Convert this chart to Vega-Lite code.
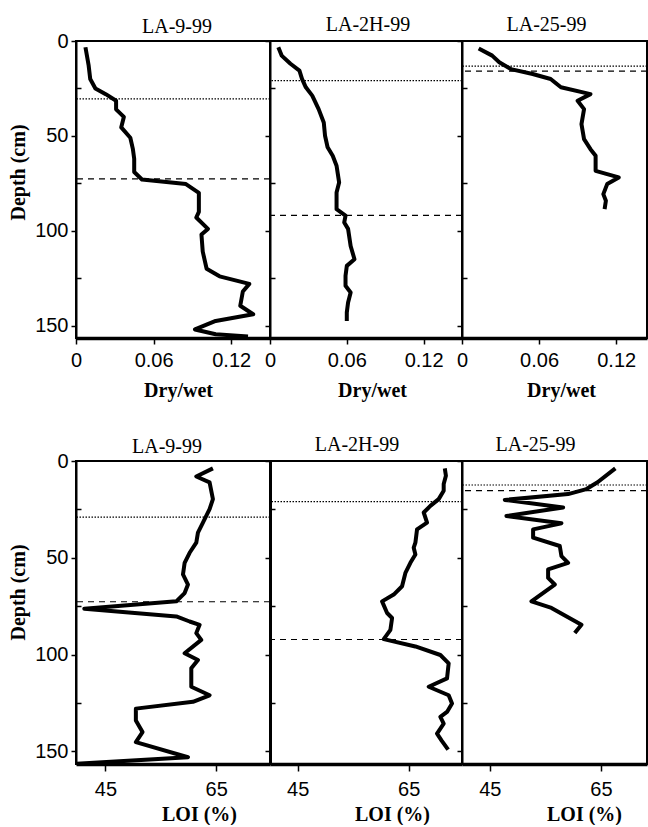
{
  "$schema": "https://vega.github.io/schema/vega-lite/v6.json",
  "padding": {"left": 7, "top": 13, "right": 0, "bottom": 0},
  "background": "white",
  "config": {
    "view": {"stroke": "black", "strokeWidth": 2},
    "axis": {"grid": false, "domainColor": "black", "tickColor": "black", "labelColor": "black", "titleColor": "black",
      "labelFont": "Liberation Sans", "labelFontSize": 20, "titleFont": "Liberation Serif", "titleFontSize": 20, "titleFontWeight": "bold",
      "labelPadding": 3, "titlePadding": 6, "tickWidth": 1.5},
    "axisX": {"titlePadding": 10},
    "title": {"font": "Liberation Serif", "fontSize": 20, "fontWeight": "normal", "color": "black", "offset": 4, "frame": "group"}
  },
  "datasets": {
    "p": [
      {"s":"LA-9-99","v":"dw","d":3.3,"x":0.0073},{"s":"LA-9-99","v":"dw","d":13,"x":0.0098},{"s":"LA-9-99","v":"dw","d":20,"x":0.011},{"s":"LA-9-99","v":"dw","d":25,"x":0.015},{"s":"LA-9-99","v":"dw","d":28,"x":0.023},{"s":"LA-9-99","v":"dw","d":31.5,"x":0.031},{"s":"LA-9-99","v":"dw","d":36,"x":0.031},{"s":"LA-9-99","v":"dw","d":40,"x":0.037},{"s":"LA-9-99","v":"dw","d":45.5,"x":0.035},{"s":"LA-9-99","v":"dw","d":51,"x":0.042},{"s":"LA-9-99","v":"dw","d":57,"x":0.044},{"s":"LA-9-99","v":"dw","d":62,"x":0.045},{"s":"LA-9-99","v":"dw","d":69,"x":0.045},{"s":"LA-9-99","v":"dw","d":73,"x":0.051},{"s":"LA-9-99","v":"dw","d":75.4,"x":0.085},{"s":"LA-9-99","v":"dw","d":80,"x":0.095},{"s":"LA-9-99","v":"dw","d":90,"x":0.095},{"s":"LA-9-99","v":"dw","d":93,"x":0.093},{"s":"LA-9-99","v":"dw","d":99,"x":0.102},{"s":"LA-9-99","v":"dw","d":102,"x":0.097},{"s":"LA-9-99","v":"dw","d":111,"x":0.098},{"s":"LA-9-99","v":"dw","d":120,"x":0.101},{"s":"LA-9-99","v":"dw","d":124,"x":0.111},{"s":"LA-9-99","v":"dw","d":128,"x":0.134},{"s":"LA-9-99","v":"dw","d":132,"x":0.129},{"s":"LA-9-99","v":"dw","d":139.5,"x":0.127},{"s":"LA-9-99","v":"dw","d":144,"x":0.137},{"s":"LA-9-99","v":"dw","d":147.5,"x":0.108},{"s":"LA-9-99","v":"dw","d":152,"x":0.092},{"s":"LA-9-99","v":"dw","d":154.5,"x":0.108},{"s":"LA-9-99","v":"dw","d":155.7,"x":0.133},
      {"s":"LA-2H-99","v":"dw","d":3.3,"x":0.0065},{"s":"LA-2H-99","v":"dw","d":7.7,"x":0.0091},{"s":"LA-2H-99","v":"dw","d":12,"x":0.016},{"s":"LA-2H-99","v":"dw","d":15.6,"x":0.023},{"s":"LA-2H-99","v":"dw","d":20,"x":0.025},{"s":"LA-2H-99","v":"dw","d":24.4,"x":0.028},{"s":"LA-2H-99","v":"dw","d":28.8,"x":0.033},{"s":"LA-2H-99","v":"dw","d":35.9,"x":0.038},{"s":"LA-2H-99","v":"dw","d":42.9,"x":0.042},{"s":"LA-2H-99","v":"dw","d":49.9,"x":0.043},{"s":"LA-2H-99","v":"dw","d":56,"x":0.045},{"s":"LA-2H-99","v":"dw","d":60.5,"x":0.049},{"s":"LA-2H-99","v":"dw","d":65.7,"x":0.052},{"s":"LA-2H-99","v":"dw","d":74.5,"x":0.054},{"s":"LA-2H-99","v":"dw","d":79.8,"x":0.052},{"s":"LA-2H-99","v":"dw","d":88.6,"x":0.052},{"s":"LA-2H-99","v":"dw","d":92,"x":0.059},{"s":"LA-2H-99","v":"dw","d":95.6,"x":0.058},{"s":"LA-2H-99","v":"dw","d":99,"x":0.061},{"s":"LA-2H-99","v":"dw","d":108,"x":0.063},{"s":"LA-2H-99","v":"dw","d":115,"x":0.066},{"s":"LA-2H-99","v":"dw","d":118.5,"x":0.06},{"s":"LA-2H-99","v":"dw","d":123.7,"x":0.059},{"s":"LA-2H-99","v":"dw","d":129,"x":0.059},{"s":"LA-2H-99","v":"dw","d":132.5,"x":0.063},{"s":"LA-2H-99","v":"dw","d":137.8,"x":0.061},{"s":"LA-2H-99","v":"dw","d":143,"x":0.06},{"s":"LA-2H-99","v":"dw","d":147.5,"x":0.06},
      {"s":"LA-25-99","v":"dw","d":3.9,"x":0.013},{"s":"LA-25-99","v":"dw","d":7.7,"x":0.0235},{"s":"LA-25-99","v":"dw","d":11.2,"x":0.029},{"s":"LA-25-99","v":"dw","d":14.8,"x":0.038},{"s":"LA-25-99","v":"dw","d":17.4,"x":0.055},{"s":"LA-25-99","v":"dw","d":20,"x":0.069},{"s":"LA-25-99","v":"dw","d":24.4,"x":0.077},{"s":"LA-25-99","v":"dw","d":28,"x":0.1},{"s":"LA-25-99","v":"dw","d":31.5,"x":0.09},{"s":"LA-25-99","v":"dw","d":35.9,"x":0.095},{"s":"LA-25-99","v":"dw","d":43.8,"x":0.093},{"s":"LA-25-99","v":"dw","d":51.7,"x":0.095},{"s":"LA-25-99","v":"dw","d":57,"x":0.1},{"s":"LA-25-99","v":"dw","d":60.5,"x":0.104},{"s":"LA-25-99","v":"dw","d":68.4,"x":0.104},{"s":"LA-25-99","v":"dw","d":71.9,"x":0.122},{"s":"LA-25-99","v":"dw","d":75.4,"x":0.113},{"s":"LA-25-99","v":"dw","d":80.7,"x":0.11},{"s":"LA-25-99","v":"dw","d":84.2,"x":0.112},{"s":"LA-25-99","v":"dw","d":88.6,"x":0.111},
      {"s":"LA-9-99","v":"loi","d":3.8,"x":64.4},{"s":"LA-9-99","v":"loi","d":8,"x":61.4},{"s":"LA-9-99","v":"loi","d":11,"x":63.8},{"s":"LA-9-99","v":"loi","d":19.7,"x":64.4},{"s":"LA-9-99","v":"loi","d":24.9,"x":63.8},{"s":"LA-9-99","v":"loi","d":31.8,"x":62.6},{"s":"LA-9-99","v":"loi","d":37,"x":61.7},{"s":"LA-9-99","v":"loi","d":42.2,"x":61.4},{"s":"LA-9-99","v":"loi","d":47.4,"x":60.2},{"s":"LA-9-99","v":"loi","d":52.6,"x":59.3},{"s":"LA-9-99","v":"loi","d":58.6,"x":59.0},{"s":"LA-9-99","v":"loi","d":63.8,"x":59.9},{"s":"LA-9-99","v":"loi","d":68.2,"x":59.3},{"s":"LA-9-99","v":"loi","d":72.5,"x":57.8},{"s":"LA-9-99","v":"loi","d":76.3,"x":41.2},{"s":"LA-9-99","v":"loi","d":80.3,"x":57.8},{"s":"LA-9-99","v":"loi","d":82.9,"x":60.2},{"s":"LA-9-99","v":"loi","d":84.6,"x":62.0},{"s":"LA-9-99","v":"loi","d":88.9,"x":61.4},{"s":"LA-9-99","v":"loi","d":92.4,"x":62.3},{"s":"LA-9-99","v":"loi","d":99.3,"x":59.3},{"s":"LA-9-99","v":"loi","d":102.8,"x":61.7},{"s":"LA-9-99","v":"loi","d":107.1,"x":60.5},{"s":"LA-9-99","v":"loi","d":110.6,"x":60.5},{"s":"LA-9-99","v":"loi","d":116.6,"x":60.5},{"s":"LA-9-99","v":"loi","d":121,"x":63.8},{"s":"LA-9-99","v":"loi","d":124.4,"x":60.8},{"s":"LA-9-99","v":"loi","d":127.9,"x":50.5},{"s":"LA-9-99","v":"loi","d":134,"x":50.5},{"s":"LA-9-99","v":"loi","d":140,"x":51.7},{"s":"LA-9-99","v":"loi","d":145.2,"x":50.5},{"s":"LA-9-99","v":"loi","d":153,"x":59.9},{"s":"LA-9-99","v":"loi","d":156.4,"x":39.8},
      {"s":"LA-2H-99","v":"loi","d":3.8,"x":71.5},{"s":"LA-2H-99","v":"loi","d":7.6,"x":71.7},{"s":"LA-2H-99","v":"loi","d":11.9,"x":71.3},{"s":"LA-2H-99","v":"loi","d":15.4,"x":71.3},{"s":"LA-2H-99","v":"loi","d":19.7,"x":70.4},{"s":"LA-2H-99","v":"loi","d":23.2,"x":68.9},{"s":"LA-2H-99","v":"loi","d":26.6,"x":67.7},{"s":"LA-2H-99","v":"loi","d":31.8,"x":68.3},{"s":"LA-2H-99","v":"loi","d":35.3,"x":66.5},{"s":"LA-2H-99","v":"loi","d":42.2,"x":66.2},{"s":"LA-2H-99","v":"loi","d":44.8,"x":65.9},{"s":"LA-2H-99","v":"loi","d":48.3,"x":66.2},{"s":"LA-2H-99","v":"loi","d":52.6,"x":65.3},{"s":"LA-2H-99","v":"loi","d":57.8,"x":64.4},{"s":"LA-2H-99","v":"loi","d":64.7,"x":63.8},{"s":"LA-2H-99","v":"loi","d":69,"x":62.3},{"s":"LA-2H-99","v":"loi","d":72.5,"x":60.2},{"s":"LA-2H-99","v":"loi","d":78.5,"x":61.1},{"s":"LA-2H-99","v":"loi","d":81.1,"x":62.0},{"s":"LA-2H-99","v":"loi","d":87.2,"x":61.7},{"s":"LA-2H-99","v":"loi","d":92,"x":60.5},{"s":"LA-2H-99","v":"loi","d":95.8,"x":66.2},{"s":"LA-2H-99","v":"loi","d":100.2,"x":70.7},{"s":"LA-2H-99","v":"loi","d":104.5,"x":72.2},{"s":"LA-2H-99","v":"loi","d":112.3,"x":71.9},{"s":"LA-2H-99","v":"loi","d":116.6,"x":68.6},{"s":"LA-2H-99","v":"loi","d":121,"x":72.2},{"s":"LA-2H-99","v":"loi","d":125.3,"x":72.8},{"s":"LA-2H-99","v":"loi","d":129.6,"x":71.9},{"s":"LA-2H-99","v":"loi","d":132.2,"x":70.7},{"s":"LA-2H-99","v":"loi","d":135.6,"x":71.3},{"s":"LA-2H-99","v":"loi","d":140.8,"x":70.1},{"s":"LA-2H-99","v":"loi","d":144.3,"x":70.9},{"s":"LA-2H-99","v":"loi","d":149.1,"x":72.1},
      {"s":"LA-25-99","v":"loi","d":3.8,"x":67.6},{"s":"LA-25-99","v":"loi","d":11,"x":64.4},{"s":"LA-25-99","v":"loi","d":14.5,"x":62.4},{"s":"LA-25-99","v":"loi","d":17.1,"x":59.1},{"s":"LA-25-99","v":"loi","d":20.1,"x":47.7},{"s":"LA-25-99","v":"loi","d":24,"x":58.2},{"s":"LA-25-99","v":"loi","d":28.4,"x":48.0},{"s":"LA-25-99","v":"loi","d":32.2,"x":57.9},{"s":"LA-25-99","v":"loi","d":35.3,"x":52.8},{"s":"LA-25-99","v":"loi","d":39.6,"x":52.8},{"s":"LA-25-99","v":"loi","d":43.9,"x":57.6},{"s":"LA-25-99","v":"loi","d":49.1,"x":57.9},{"s":"LA-25-99","v":"loi","d":52.6,"x":59.1},{"s":"LA-25-99","v":"loi","d":56,"x":55.5},{"s":"LA-25-99","v":"loi","d":60.4,"x":55.5},{"s":"LA-25-99","v":"loi","d":63.8,"x":56.7},{"s":"LA-25-99","v":"loi","d":72.5,"x":52.5},{"s":"LA-25-99","v":"loi","d":75.9,"x":56.1},{"s":"LA-25-99","v":"loi","d":84.6,"x":61.5},{"s":"LA-25-99","v":"loi","d":88.9,"x":60.3}
    ],
    "r": [
      {"s":"LA-9-99","v":"dw","k":"dot","d":30.5},{"s":"LA-9-99","v":"dw","k":"dash","d":72.6},
      {"s":"LA-2H-99","v":"dw","k":"dot","d":20.9},{"s":"LA-2H-99","v":"dw","k":"dash","d":91.9},
      {"s":"LA-25-99","v":"dw","k":"dot","d":13.2},{"s":"LA-25-99","v":"dw","k":"dash","d":15.9},
      {"s":"LA-9-99","v":"loi","k":"dot","d":29},{"s":"LA-9-99","v":"loi","k":"dash","d":72.7},
      {"s":"LA-2H-99","v":"loi","k":"dot","d":21},{"s":"LA-2H-99","v":"loi","k":"dash","d":92.2},
      {"s":"LA-25-99","v":"loi","k":"dot","d":12.4},{"s":"LA-25-99","v":"loi","k":"dash","d":15.3}
    ]
  },
  "spacing": 420,
  "bounds": "flush",
  "vconcat": [
    {
      "spacing": 0,
      "bounds": "flush",
      "hconcat": [
        {
          "width": 194, "height": 297,
          "title": {"text": "LA-9-99", "dx": 4, "dy": 9.5},
          "encoding": {"y": {"field": "d", "type": "quantitative", "scale": {"domain": [0, 156.5], "reverse": true, "nice": false},
            "axis": {"values": [0,25,50,75,100,125,150], "labelExpr": "datum.value % 50 === 0 ? datum.label : ''", "tickSize": {"condition": {"test": "datum.value % 50 !== 0", "value": -5}, "value": 5}, "title": "Depth (cm)", "titleY": 131, "domainWidth": 2}}},
          "layer": [
            {"data": {"name": "p"}, "transform": [{"filter": "datum.s === 'LA-9-99' && datum.v === 'dw'"}],
             "mark": {"type": "line", "color": "black", "strokeWidth": 4, "clip": true, "strokeJoin": "round"},
             "encoding": {"x": {"field": "x", "type": "quantitative", "scale": {"domain": [0, 0.15], "nice": false, "zero": false},
               "axis": {"values": [0, 0.06, 0.12], "format": ".2~f", "title": "Dry/wet", "titleX": 102, "domainWidth": 3.5, "tickSize": 6, "labelPadding": 6, "labelFlush": false, "labelOverlap": false}},
               "order": {"field": "d", "type": "quantitative"}}},
            {"data": {"name": "r"}, "transform": [{"filter": "datum.s === 'LA-9-99' && datum.v === 'dw'"}],
             "mark": {"type": "rule", "color": "black", "strokeWidth": 1.2},
             "encoding": {"strokeDash": {"field": "k", "type": "nominal", "scale": {"domain": ["dot", "dash"], "range": [[1.5, 1.5], [6, 5]]}, "legend": null}}}
          ]
        },
        {
          "width": 192, "height": 297,
          "title": {"text": "LA-2H-99", "dx": 2, "dy": -1.5},
          "encoding": {"y": {"field": "d", "type": "quantitative", "scale": {"domain": [0, 156.5], "reverse": true, "nice": false},
            "axis": {"values": [0,25,50,75,100,125,150], "labels": false, "tickSize": {"condition": {"test": "datum.value % 50 !== 0", "value": -5}, "value": 5}, "title": null, "domainWidth": 2}}},
          "layer": [
            {"data": {"name": "p"}, "transform": [{"filter": "datum.s === 'LA-2H-99' && datum.v === 'dw'"}],
             "mark": {"type": "line", "color": "black", "strokeWidth": 4, "clip": true, "strokeJoin": "round"},
             "encoding": {"x": {"field": "x", "type": "quantitative", "scale": {"domain": [0, 0.15], "nice": false, "zero": false},
               "axis": {"values": [0, 0.06, 0.12], "format": ".2~f", "title": "Dry/wet", "titleX": 102, "domainWidth": 3.5, "tickSize": 6, "labelPadding": 6, "labelFlush": false, "labelOverlap": false}},
               "order": {"field": "d", "type": "quantitative"}}},
            {"data": {"name": "r"}, "transform": [{"filter": "datum.s === 'LA-2H-99' && datum.v === 'dw'"}],
             "mark": {"type": "rule", "color": "black", "strokeWidth": 1.2},
             "encoding": {"strokeDash": {"field": "k", "type": "nominal", "scale": {"domain": ["dot", "dash"], "range": [[1.5, 1.5], [6, 5]]}, "legend": null}}}
          ]
        },
        {
          "width": 185, "height": 297,
          "title": {"text": "LA-25-99", "dx": -8, "dy": -1.5},
          "encoding": {"y": {"field": "d", "type": "quantitative", "scale": {"domain": [0, 156.5], "reverse": true, "nice": false},
            "axis": {"values": [0,25,50,75,100,125,150], "labels": false, "tickSize": {"condition": {"test": "datum.value % 50 !== 0", "value": -5}, "value": 5}, "title": null, "domainWidth": 2}}},
          "layer": [
            {"data": {"name": "p"}, "transform": [{"filter": "datum.s === 'LA-25-99' && datum.v === 'dw'"}],
             "mark": {"type": "line", "color": "black", "strokeWidth": 4, "clip": true, "strokeJoin": "round"},
             "encoding": {"x": {"field": "x", "type": "quantitative", "scale": {"domain": [0, 0.144], "nice": false, "zero": false},
               "axis": {"values": [0, 0.06, 0.12], "format": ".2~f", "title": "Dry/wet", "titleX": 99, "domainWidth": 3.5, "tickSize": 6, "labelPadding": 6, "labelFlush": false, "labelOverlap": false}},
               "order": {"field": "d", "type": "quantitative"}}},
            {"data": {"name": "r"}, "transform": [{"filter": "datum.s === 'LA-25-99' && datum.v === 'dw'"}],
             "mark": {"type": "rule", "color": "black", "strokeWidth": 1.2},
             "encoding": {"strokeDash": {"field": "k", "type": "nominal", "scale": {"domain": ["dot", "dash"], "range": [[1.5, 1.5], [6, 5]]}, "legend": null}}}
          ]
        }
      ]
    },
    {
      "spacing": 0,
      "bounds": "flush",
      "hconcat": [
        {
          "width": 194, "height": 303,
          "title": {"text": "LA-9-99", "dx": -6, "dy": 9.5},
          "encoding": {"y": {"field": "d", "type": "quantitative", "scale": {"domain": [0, 156.5], "reverse": true, "nice": false},
            "axis": {"values": [0,25,50,75,100,125,150], "labelExpr": "datum.value % 50 === 0 ? datum.label : ''", "tickSize": {"condition": {"test": "datum.value % 50 !== 0", "value": -5}, "value": 5}, "title": "Depth (cm)", "titleY": 131, "domainWidth": 2}}},
          "layer": [
            {"data": {"name": "p"}, "transform": [{"filter": "datum.s === 'LA-9-99' && datum.v === 'loi'"}],
             "mark": {"type": "line", "color": "black", "strokeWidth": 4, "clip": true, "strokeJoin": "round"},
             "encoding": {"x": {"field": "x", "type": "quantitative", "scale": {"domain": [39.7, 74.7], "nice": false, "zero": false},
               "axis": {"values": [45, 65], "title": "LOI (%)", "titleX": 123, "domainWidth": 3.5, "tickSize": 7, "labelPadding": 8, "titlePadding": 5, "labelFlush": false, "labelOverlap": false}},
               "order": {"field": "d", "type": "quantitative"}}},
            {"data": {"name": "r"}, "transform": [{"filter": "datum.s === 'LA-9-99' && datum.v === 'loi'"}],
             "mark": {"type": "rule", "color": "black", "strokeWidth": 1.2},
             "encoding": {"strokeDash": {"field": "k", "type": "nominal", "scale": {"domain": ["dot", "dash"], "range": [[1.5, 1.5], [6, 5]]}, "legend": null}}}
          ]
        },
        {
          "width": 192, "height": 303,
          "title": {"text": "LA-2H-99", "dx": -9, "dy": -1.5},
          "encoding": {"y": {"field": "d", "type": "quantitative", "scale": {"domain": [0, 156.5], "reverse": true, "nice": false},
            "axis": {"values": [0,25,50,75,100,125,150], "labels": false, "tickSize": {"condition": {"test": "datum.value % 50 !== 0", "value": -5}, "value": 5}, "title": null, "domainWidth": 3}}},
          "layer": [
            {"data": {"name": "p"}, "transform": [{"filter": "datum.s === 'LA-2H-99' && datum.v === 'loi'"}],
             "mark": {"type": "line", "color": "black", "strokeWidth": 4, "clip": true, "strokeJoin": "round"},
             "encoding": {"x": {"field": "x", "type": "quantitative", "scale": {"domain": [40, 74.6], "nice": false, "zero": false},
               "axis": {"values": [45, 65], "title": "LOI (%)", "titleX": 122, "domainWidth": 3.5, "tickSize": 7, "labelPadding": 8, "titlePadding": 5, "labelFlush": false, "labelOverlap": false}},
               "order": {"field": "d", "type": "quantitative"}}},
            {"data": {"name": "r"}, "transform": [{"filter": "datum.s === 'LA-2H-99' && datum.v === 'loi'"}],
             "mark": {"type": "rule", "color": "black", "strokeWidth": 1.2},
             "encoding": {"strokeDash": {"field": "k", "type": "nominal", "scale": {"domain": ["dot", "dash"], "range": [[1.5, 1.5], [6, 5]]}, "legend": null}}}
          ]
        },
        {
          "width": 185, "height": 303,
          "title": {"text": "LA-25-99", "dx": -19, "dy": -1.5},
          "encoding": {"y": {"field": "d", "type": "quantitative", "scale": {"domain": [0, 156.5], "reverse": true, "nice": false},
            "axis": {"values": [0,25,50,75,100,125,150], "labels": false, "tickSize": {"condition": {"test": "datum.value % 50 !== 0", "value": -5}, "value": 5}, "title": null, "domainWidth": 2}}},
          "layer": [
            {"data": {"name": "p"}, "transform": [{"filter": "datum.s === 'LA-25-99' && datum.v === 'loi'"}],
             "mark": {"type": "line", "color": "black", "strokeWidth": 4, "clip": true, "strokeJoin": "round"},
             "encoding": {"x": {"field": "x", "type": "quantitative", "scale": {"domain": [40, 73.3], "nice": false, "zero": false},
               "axis": {"values": [45, 65], "title": "LOI (%)", "titleX": 122, "domainWidth": 3.5, "tickSize": 7, "labelPadding": 8, "titlePadding": 5, "labelFlush": false, "labelOverlap": false}},
               "order": {"field": "d", "type": "quantitative"}}},
            {"data": {"name": "r"}, "transform": [{"filter": "datum.s === 'LA-25-99' && datum.v === 'loi'"}],
             "mark": {"type": "rule", "color": "black", "strokeWidth": 1.2},
             "encoding": {"strokeDash": {"field": "k", "type": "nominal", "scale": {"domain": ["dot", "dash"], "range": [[1.5, 1.5], [6, 5]]}, "legend": null}}}
          ]
        }
      ]
    }
  ]
}
